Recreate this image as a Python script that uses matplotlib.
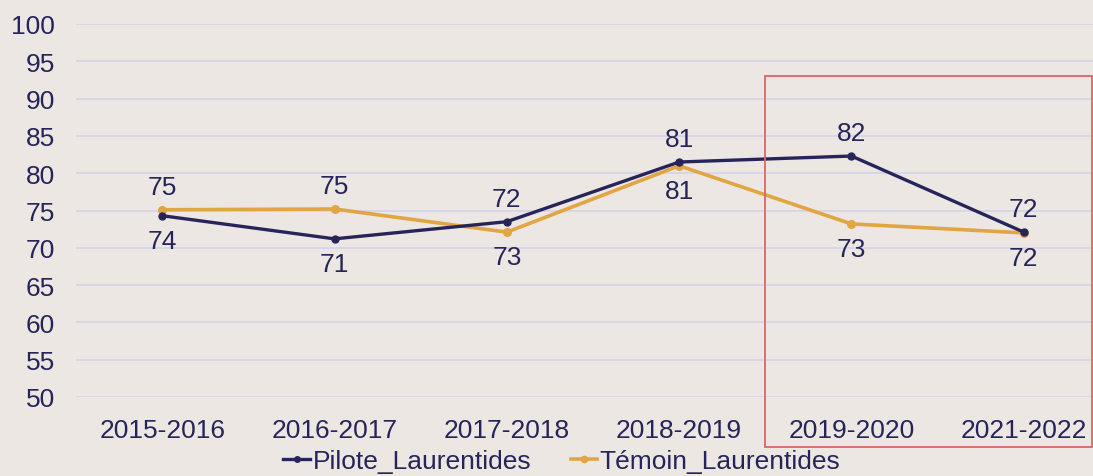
import matplotlib
matplotlib.use("Agg")
import matplotlib.pyplot as plt
from matplotlib.patches import Rectangle
from matplotlib.lines import Line2D

categories = ["2015-2016", "2016-2017", "2017-2018", "2018-2019", "2019-2020", "2021-2022"]
pilote = [74.3, 71.2, 73.5, 81.5, 82.3, 72.1]
temoin = [75.1, 75.2, 72.1, 81.0, 73.2, 72.0]
top_labels = ["75", "75", "72", "81", "82", "72"]
bottom_labels = ["74", "71", "73", "81", "73", "72"]
yticks = list(range(50, 101, 5))

plt.rcParams['font.family'] = ['Liberation Sans', 'DejaVu Sans']
BG = "#ECE7E3"
NAVY = "#27245A"
ORANGE = "#E1A543"
GRID = "#D8D4EA"
FS = 19

W, H = 1093, 477
fig = plt.figure(figsize=(W / 100, H / 100), dpi=100, facecolor=BG)
left, right, top, bottom = 76, 1110, 25, 398
ax = fig.add_axes([left / W, 1 - bottom / H, (right - left) / W, (bottom - top) / H])
ax.set_facecolor(BG)

x = list(range(len(categories)))
ax.plot(x, pilote, color=NAVY, lw=2.4, marker="o", ms=5, zorder=3, label="Pilote_Laurentides")
ax.plot(x, temoin, color=ORANGE, lw=2.6, marker="o", ms=5.5, zorder=2, label="Témoin_Laurentides")

ax.set_xlim(-0.5, len(categories) - 0.5)
ax.set_ylim(50, 100)
ax.set_yticks(yticks)
ax.set_xticks(x)
ax.set_xticklabels(categories)
ax.grid(axis="y", color=GRID, lw=1.3)
ax.set_axisbelow(True)
for s in ax.spines.values():
    s.set_visible(False)
ax.tick_params(axis="both", length=0, labelsize=FS, labelcolor=NAVY)
ax.tick_params(axis="x", pad=15)
ax.tick_params(axis="y", pad=15)

for i in x:
    hi = max(pilote[i], temoin[i])
    lo = min(pilote[i], temoin[i])
    ax.annotate(top_labels[i], (i, hi), xytext=(0, 16.5), textcoords="offset points",
                ha="center", va="center", fontsize=FS, color=NAVY)
    ax.annotate(bottom_labels[i], (i, lo), xytext=(0, -18), textcoords="offset points",
                ha="center", va="center", fontsize=FS, color=NAVY)

handles = [Line2D([], [], color=NAVY, lw=2.4, marker="o", ms=4),
           Line2D([], [], color=ORANGE, lw=2.6, marker="o", ms=4.5)]
fig.legend(handles, ["Pilote_Laurentides", "Témoin_Laurentides"], loc="center",
           bbox_to_anchor=(562 / W, 1 - 462 / H), ncol=2, frameon=False,
           fontsize=FS, labelcolor=NAVY, handlelength=1.0, handletextpad=0.1,
           columnspacing=1.5, borderpad=0.2)

rect = Rectangle((765 / W, 1 - 448 / H), (1092 - 765) / W, (448 - 77) / H,
                 transform=fig.transFigure, fill=False, edgecolor="#E06565", lw=1.3)
fig.patches.append(rect)

fig.savefig("out.png", dpi=100, facecolor=BG)
